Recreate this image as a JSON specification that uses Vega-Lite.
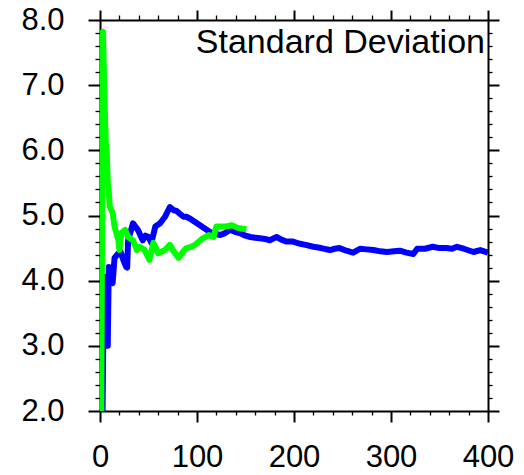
{
  "$schema": "https://vega.github.io/schema/vega-lite/v6.json",
  "autosize": {"type": "none"},
  "padding": {"left": 100, "top": 20, "right": 36, "bottom": 64},
  "width": 388,
  "height": 391,
  "background": "white",
  "config": {
    "view": {"stroke": null},
    "font": "Liberation Sans",
    "axis": {
      "grid": false,
      "domainColor": "black",
      "domainWidth": 2,
      "tickColor": "black",
      "labelColor": "black",
      "labelFont": "Liberation Sans",
      "labelFontSize": 31,
      "labelOverlap": false,
      "labelFlush": false,
      "title": null
    }
  },
  "datasets": {
    "blue": [
      {"x": 2, "v": 1.0}, {"x": 4, "v": 4.06}, {"x": 5, "v": 3.0}, {"x": 8, "v": 3.0},
      {"x": 9, "v": 4.21}, {"x": 11, "v": 4.2}, {"x": 12, "v": 4.0}, {"x": 13, "v": 3.96},
      {"x": 15, "v": 4.35}, {"x": 19, "v": 4.42}, {"x": 21, "v": 4.45}, {"x": 24, "v": 4.32},
      {"x": 27, "v": 4.21}, {"x": 28, "v": 4.2}, {"x": 29, "v": 4.62}, {"x": 34, "v": 4.88},
      {"x": 39, "v": 4.78}, {"x": 44, "v": 4.62}, {"x": 47, "v": 4.69}, {"x": 50, "v": 4.67},
      {"x": 53, "v": 4.58}, {"x": 57, "v": 4.83}, {"x": 62, "v": 4.88}, {"x": 67, "v": 4.98},
      {"x": 72, "v": 5.13}, {"x": 76, "v": 5.08}, {"x": 79, "v": 5.07}, {"x": 82, "v": 5.03},
      {"x": 86, "v": 4.98}, {"x": 89, "v": 4.98}, {"x": 93, "v": 4.95}, {"x": 98, "v": 4.9},
      {"x": 103, "v": 4.85}, {"x": 108, "v": 4.8}, {"x": 113, "v": 4.75}, {"x": 118, "v": 4.72},
      {"x": 124, "v": 4.7}, {"x": 129, "v": 4.73}, {"x": 134, "v": 4.78}, {"x": 139, "v": 4.75},
      {"x": 144, "v": 4.73}, {"x": 150, "v": 4.69}, {"x": 155, "v": 4.67}, {"x": 160, "v": 4.66},
      {"x": 165, "v": 4.65}, {"x": 170, "v": 4.64}, {"x": 175, "v": 4.62}, {"x": 182, "v": 4.67},
      {"x": 187, "v": 4.63}, {"x": 192, "v": 4.6}, {"x": 199, "v": 4.6}, {"x": 205, "v": 4.57},
      {"x": 212, "v": 4.55}, {"x": 220, "v": 4.52}, {"x": 228, "v": 4.5}, {"x": 237, "v": 4.47},
      {"x": 242, "v": 4.49}, {"x": 247, "v": 4.5}, {"x": 254, "v": 4.46}, {"x": 261, "v": 4.43},
      {"x": 268, "v": 4.49}, {"x": 275, "v": 4.48}, {"x": 282, "v": 4.47}, {"x": 289, "v": 4.45},
      {"x": 296, "v": 4.44}, {"x": 303, "v": 4.45}, {"x": 309, "v": 4.46}, {"x": 316, "v": 4.43},
      {"x": 323, "v": 4.41}, {"x": 327, "v": 4.49}, {"x": 335, "v": 4.49}, {"x": 343, "v": 4.52},
      {"x": 350, "v": 4.5}, {"x": 357, "v": 4.5}, {"x": 363, "v": 4.49}, {"x": 368, "v": 4.52},
      {"x": 375, "v": 4.49}, {"x": 385, "v": 4.44}, {"x": 392, "v": 4.47}, {"x": 396, "v": 4.45},
      {"x": 400, "v": 4.43}
    ],
    "green": [
      {"x": 1, "v": 1.0}, {"x": 3, "v": 7.82}, {"x": 5, "v": 6.6}, {"x": 6, "v": 6.1},
      {"x": 7, "v": 5.96}, {"x": 8, "v": 5.5}, {"x": 9, "v": 5.39}, {"x": 10, "v": 5.14},
      {"x": 13, "v": 5.04}, {"x": 15, "v": 4.83}, {"x": 19, "v": 4.62}, {"x": 20, "v": 4.47},
      {"x": 22, "v": 4.73}, {"x": 26, "v": 4.78}, {"x": 29, "v": 4.67}, {"x": 34, "v": 4.62},
      {"x": 38, "v": 4.47}, {"x": 41, "v": 4.52}, {"x": 46, "v": 4.47}, {"x": 51, "v": 4.32},
      {"x": 55, "v": 4.58}, {"x": 60, "v": 4.42}, {"x": 67, "v": 4.47}, {"x": 72, "v": 4.55},
      {"x": 76, "v": 4.45}, {"x": 81, "v": 4.35}, {"x": 86, "v": 4.45}, {"x": 89, "v": 4.5},
      {"x": 94, "v": 4.52}, {"x": 98, "v": 4.55}, {"x": 102, "v": 4.6}, {"x": 106, "v": 4.65},
      {"x": 112, "v": 4.7}, {"x": 117, "v": 4.67}, {"x": 120, "v": 4.83}, {"x": 129, "v": 4.83},
      {"x": 136, "v": 4.85}, {"x": 142, "v": 4.81}, {"x": 146, "v": 4.8}, {"x": 151, "v": 4.79}
    ],
    "label": [{"t": "Standard Deviation"}]
  },
  "layer": [
    {
      "data": {"name": "blue"},
      "mark": {"type": "line", "color": "#0000ff", "strokeWidth": 6, "clip": true, "strokeJoin": "round"},
      "encoding": {
        "x": {
          "field": "x", "type": "quantitative",
          "scale": {"domain": [0, 400], "nice": false, "zero": false},
          "axis": {
            "orient": "bottom",
            "values": [0,20,40,60,80,100,120,140,160,180,200,220,240,260,280,300,320,340,360,380,400],
            "labelExpr": "datum.value % 100 === 0 ? datum.label : ''",
            "tickSize": {"condition": {"test": "datum.value % 100 === 0", "value": 11}, "value": 4},
            "tickWidth": {"condition": {"test": "datum.value % 100 === 0", "value": 2}, "value": 1.3},
            "labelPadding": 20
          }
        },
        "y": {
          "field": "v", "type": "quantitative",
          "scale": {"domain": [2, 8], "nice": false, "zero": false},
          "axis": {
            "orient": "left",
            "values": [2,2.2,2.4,2.6,2.8,3,3.2,3.4,3.6,3.8,4,4.2,4.4,4.6,4.8,5,5.2,5.4,5.6,5.8,6,6.2,6.4,6.6,6.8,7,7.2,7.4,7.6,7.8,8],
            "labelExpr": "abs(datum.value - round(datum.value)) < 0.01 ? format(datum.value, '.1f') : ''",
            "tickSize": {"condition": {"test": "abs(datum.value - round(datum.value)) < 0.01", "value": 12}, "value": 5},
            "tickWidth": {"condition": {"test": "abs(datum.value - round(datum.value)) < 0.01", "value": 2}, "value": 1.3},
            "labelPadding": 24
          }
        }
      }
    },
    {
      "data": {"name": "green"},
      "mark": {"type": "line", "color": "#00ff00", "strokeWidth": 6, "clip": true, "strokeJoin": "round"},
      "encoding": {
        "x": {
          "field": "x", "type": "quantitative",
          "axis": {
            "orient": "top",
            "values": [0,20,40,60,80,100,120,140,160,180,200,220,240,260,280,300,320,340,360,380,400],
            "labels": false,
            "tickSize": {"condition": {"test": "datum.value % 100 === 0", "value": 10}, "value": 5},
            "tickWidth": {"condition": {"test": "datum.value % 100 === 0", "value": 2}, "value": 1.3}
          }
        },
        "y": {
          "field": "v", "type": "quantitative",
          "axis": {
            "orient": "right",
            "values": [2,2.2,2.4,2.6,2.8,3,3.2,3.4,3.6,3.8,4,4.2,4.4,4.6,4.8,5,5.2,5.4,5.6,5.8,6,6.2,6.4,6.6,6.8,7,7.2,7.4,7.6,7.8,8],
            "labels": false,
            "tickSize": {"condition": {"test": "abs(datum.value - round(datum.value)) < 0.01", "value": 11}, "value": 4},
            "tickWidth": {"condition": {"test": "abs(datum.value - round(datum.value)) < 0.01", "value": 2}, "value": 1.3}
          }
        }
      }
    },
    {
      "data": {"name": "label"},
      "mark": {"type": "text", "align": "right", "baseline": "top", "fontSize": 34, "font": "Liberation Sans", "color": "black", "dx": -3, "dy": 6},
      "encoding": {
        "x": {"datum": 400, "type": "quantitative", "axis": null},
        "y": {"datum": 8, "type": "quantitative", "axis": null},
        "text": {"field": "t"}
      }
    }
  ],
  "resolve": {"axis": {"x": "independent", "y": "independent"}}
}
